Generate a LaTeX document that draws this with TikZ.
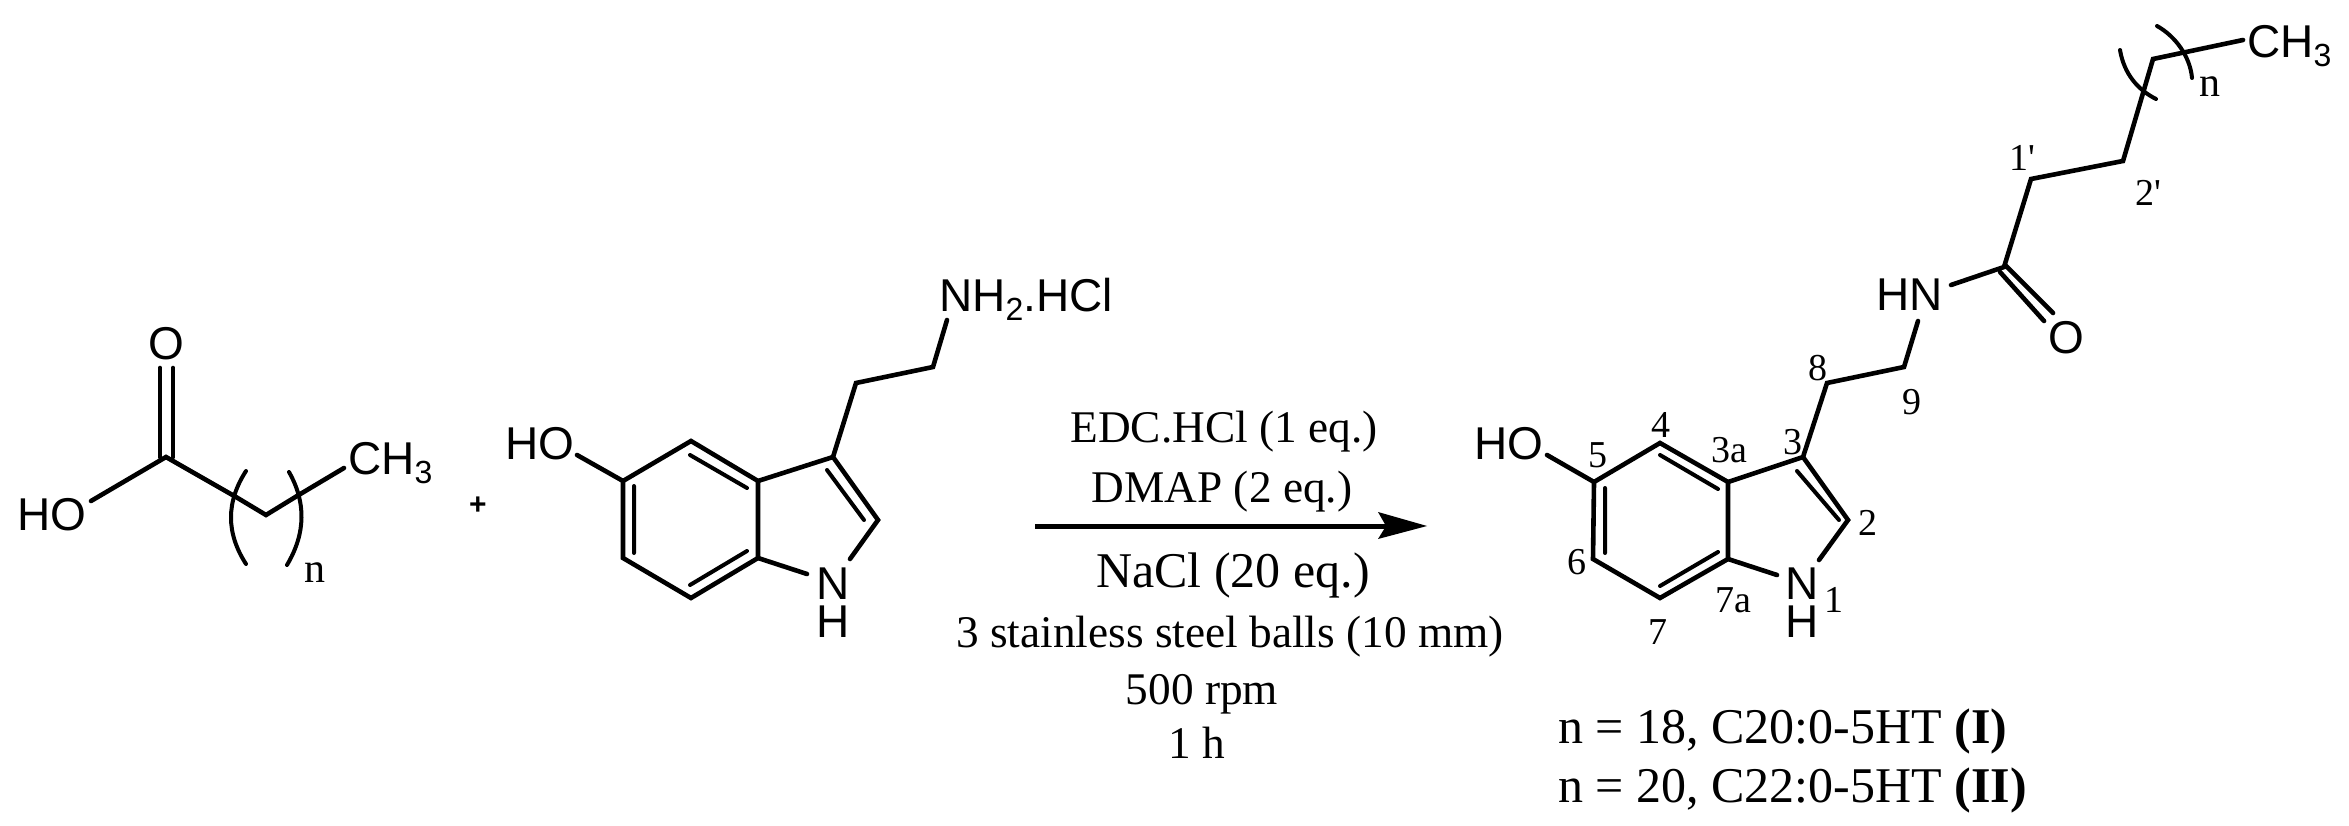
\documentclass[tikz,border=0pt]{standalone}
\usepackage{fontspec}
\setmainfont{Liberation Serif}
\newfontfamily\chemsans{Liberation Sans}
\newfontfamily\plainserif{Liberation Serif}
\newcommand{\chemsub}[1]{\raisebox{-9pt}{\fontsize{32}{32}\selectfont #1}}
\newcommand{\primemark}{{\plainserif '}}
\tikzset{
  bond/.style={line width=4.6pt,line cap=round,line join=miter,black},
  inner/.style={line width=4pt,line cap=round,black},
  atom/.style={font=\chemsans\fontsize{46}{46}\selectfont,inner sep=0pt,anchor=base west},
  atomc/.style={font=\chemsans\fontsize{46}{46}\selectfont,inner sep=0pt,anchor=base},
  num/.style={font=\fontsize{38}{38}\selectfont,inner sep=0pt,anchor=center},
  cond/.style={font=\fontsize{45.3}{45.3}\selectfont,inner sep=0pt,anchor=base},
  condb/.style={font=\fontsize{50}{50}\selectfont,inner sep=0pt,anchor=base},
  prod/.style={font=\fontsize{50}{50}\selectfont,inner sep=0pt,anchor=base west},
  paren/.style={line width=4pt,line cap=round,black},
}
\begin{document}
\begin{tikzpicture}[x=1pt,y=-1pt]
\useasboundingbox (0,0) rectangle (2349,826);
% ---- acid
\coordinate (aC) at (166,457);
\coordinate (aOa) at (160,368); \coordinate (aCa) at (160,457);
\coordinate (aOb) at (173,368); \coordinate (aCb) at (173,457);
\coordinate (aOH) at (91,501);
\coordinate (a1) at (236,497);
\coordinate (a2) at (266,515);
\coordinate (a3) at (297,496);
\coordinate (aMe) at (344,468);
\node[atomc] (aO) at (166,359) {O};
\node[atom] (aHO) at (17,530) {HO};
\node[atom] (aCH) at (348,474) {CH\chemsub{3}};
\node[num,font=\fontsize{42}{42}\selectfont] (an) at (315,573) {n};
\draw[bond] (aOH) -- (aC) -- (a1) -- (a2) -- (a3) -- (aMe);
\draw[bond] (aOa) -- (aCa) (aOb) -- (aCb);
\coordinate (p1a) at (246,471); \coordinate (p1b) at (246,564);
\coordinate (p2a) at (289,472); \coordinate (p2b) at (287,565);
\draw[paren] (p1a) .. controls (226,502) and (226,533) .. (p1b);
\draw[paren] (p2a) .. controls (306,502) and (306,533) .. (p2b);
\node[font=\chemsans\bfseries\fontsize{30}{30}\selectfont,inner sep=0pt] (plus) at (478,506) {+};
% ---- serotonin
\coordinate (s5) at (623,481); \coordinate (s4) at (691,441);
\coordinate (s3a) at (758,481); \coordinate (s7a) at (758,558);
\coordinate (s7) at (691,598); \coordinate (s6) at (623,558);
\coordinate (s3) at (833,457); \coordinate (s2) at (878,520);
\coordinate (sN2) at (850,559); \coordinate (sN7) at (807,574);
\coordinate (sOH) at (577,455);
\coordinate (s8) at (856,383); \coordinate (s9) at (933,367); \coordinate (sNH) at (947,320);
\coordinate (si4) at (690,455); \coordinate (si3a) at (747,488);
\coordinate (si5) at (634,486); \coordinate (si6) at (634,553);
\coordinate (si7) at (690,585); \coordinate (si7a) at (747,551);
\coordinate (si3) at (827,470); \coordinate (si2) at (864,520);
\draw[bond] (sOH) -- (s5) -- (s4) -- (s3a) -- (s7a) -- (s7) -- (s6) -- (s5);
\draw[bond] (s3a) -- (s3) -- (s2) -- (sN2);
\draw[bond] (s7a) -- (sN7);
\draw[bond] (s3) -- (s8) -- (s9) -- (sNH);
\draw[inner] (si4) -- (si3a) (si5) -- (si6) (si7) -- (si7a) (si3) -- (si2);
\node[atom] (sHO) at (505,459) {HO};
\node[atomc] (sN) at (833,599) {N};
\node[atomc] (sH) at (833,637) {H};
\node[atom] (sAm) at (939,311) {NH\chemsub{2}.HCl};
% ---- arrow
\coordinate (arS) at (1035,526); \coordinate (arE) at (1427,526);
\coordinate (arT) at (1378,512); \coordinate (arN) at (1386,526); \coordinate (arB) at (1378,539);
\draw[line width=5pt,black] (arS) -- (arN);
\fill[black] (arE) -- (arT) -- (arN) -- (arB) -- cycle;
\node[cond] (c1) at (1224,442) {EDC.HCl (1 eq.)};
\node[cond] (c2) at (1222,502) {DMAP (2 eq.)};
\node[condb] (c3) at (1233,587) {NaCl (20 eq.)};
\node[cond] (c4) at (1230,647) {3 stainless steel balls (10 mm)};
\node[cond] (c5) at (1202,704) {500 rpm};
\node[cond] (c6) at (1197,758) {1 h};
% ---- product
\coordinate (r5) at (1594,482); \coordinate (r4) at (1660,443);
\coordinate (r3a) at (1728,482); \coordinate (r7a) at (1728,559);
\coordinate (r7) at (1660,598); \coordinate (r6) at (1593,559);
\coordinate (r3) at (1803,457); \coordinate (r2) at (1848,520);
\coordinate (rN2) at (1819,560); \coordinate (rN7) at (1777,575);
\coordinate (rOH) at (1547,455);
\coordinate (r8) at (1827,383); \coordinate (r9) at (1904,367); \coordinate (rNH) at (1918,321);
\coordinate (ri4) at (1660,455); \coordinate (ri3a) at (1718,489);
\coordinate (ri5) at (1605,488); \coordinate (ri6) at (1605,553);
\coordinate (ri7) at (1660,586); \coordinate (ri7a) at (1718,552);
\coordinate (ri3) at (1797,471); \coordinate (ri2) at (1839,520);
\coordinate (rHN) at (1951,285); \coordinate (rC) at (2004,267);
\coordinate (r1p) at (2031,179); \coordinate (r2p) at (2123,161);
\coordinate (r3p) at (2153,59); \coordinate (rMe) at (2243,40);
\coordinate (rOa) at (2053,313); \coordinate (rCa) at (2005,265);
\coordinate (rOb) at (2044,321); \coordinate (rCb) at (2000,272);
\draw[bond] (rOH) -- (r5) -- (r4) -- (r3a) -- (r7a) -- (r7) -- (r6) -- (r5);
\draw[bond] (r3a) -- (r3) -- (r2) -- (rN2);
\draw[bond] (r7a) -- (rN7);
\draw[bond] (r3) -- (r8) -- (r9) -- (rNH);
\draw[bond] (rHN) -- (rC) -- (r1p) -- (r2p) -- (r3p) -- (rMe);
\draw[bond] (rOa) -- (rCa) (rOb) -- (rCb);
\draw[inner] (ri4) -- (ri3a) (ri5) -- (ri6) (ri7) -- (ri7a) (ri3) -- (ri2);
\coordinate (q1a) at (2120,50); \coordinate (q1b) at (2156,99);
\coordinate (q2a) at (2157,26); \coordinate (q2b) at (2192,78);
\draw[paren] (q1a) .. controls (2124,74) and (2138,90) .. (q1b);
\draw[paren] (q2a) .. controls (2175,36) and (2190,56) .. (q2b);
\node[atom] (rHO) at (1474,459) {HO};
\node[atomc] (rN) at (1802,599) {N};
\node[atomc] (rH) at (1802,637) {H};
\node[atom] (rHNl) at (1876,310) {HN};
\node[atomc] (rO) at (2066,353) {O};
\node[atom] (rCH) at (2247,58) {CH\chemsub{3}};
\node[num,font=\fontsize{42}{42}\selectfont] (rn) at (2210,87) {n};
\node[num] (l8) at (1818,368) {8};
\node[num] (l9) at (1912,402) {9};
\node[num] (l4) at (1661,425) {4};
\node[num] (l5) at (1598,455) {5};
\node[num] (l3a) at (1729,450) {3a};
\node[num] (l3) at (1793,442) {3};
\node[num] (l2) at (1868,523) {2};
\node[num] (l6) at (1577,562) {6};
\node[num] (l7a) at (1733,600) {7a};
\node[num] (l7) at (1658,632) {7};
\node[num] (l1) at (1834,600) {1};
\node[num] (l1p) at (2022,158) {1\primemark};
\node[num] (l2p) at (2148,193) {2\primemark};
\node[prod] (t1) at (1558,743) {n = 18, C20:0-5HT \textbf{(I)}};
\node[prod] (t2) at (1558,802) {n = 20, C22:0-5HT \textbf{(II)}};
\end{tikzpicture}
\end{document}
